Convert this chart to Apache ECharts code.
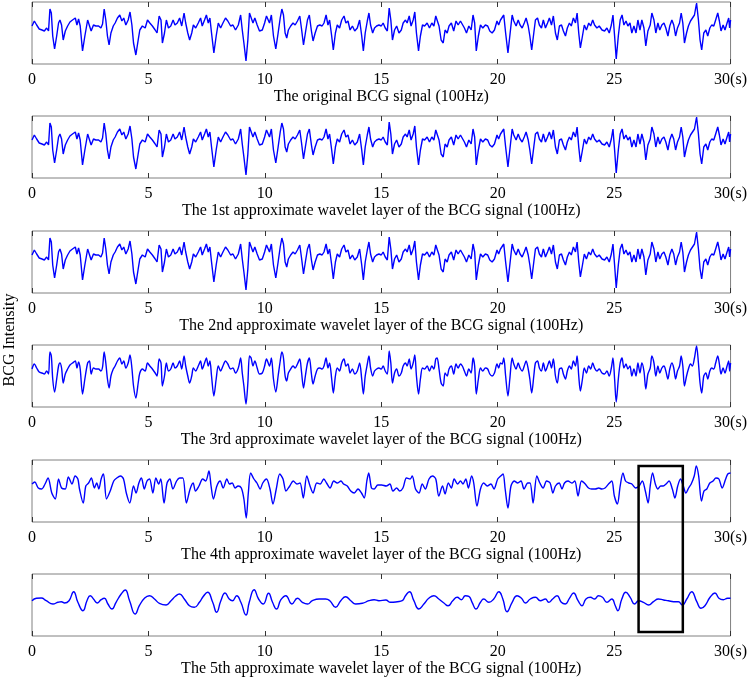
<!DOCTYPE html>
<html>
<head>
<meta charset="utf-8">
<script src="https://cdn.jsdelivr.net/npm/echarts@6/dist/echarts.min.js"></script>
<style>
  html, body { margin: 0; padding: 0; background: #fff; }
  #main { width: 750px; height: 679px; }
</style>
</head>
<body>
<div id="main"></div>
<script>
// BCG signal as [time (s), level]
var rawSignal = [
  [0,38],[0.1,43],[0.2,39],[0.31,35],[0.43,34],[0.53,33],[0.63,36],[0.71,33],[0.77,55],[0.83,51],[0.89,28],[0.97,15],[1.06,28],[1.14,41],[1.2,44],[1.27,39],[1.34,24],[1.43,33],[1.53,38],[1.63,42],[1.74,44],[1.86,46],[1.93,39],[2.0,45],[2.07,38],[2.17,13],[2.27,28],[2.39,44],[2.47,46],[2.54,33],[2.64,39],[2.74,38],[2.86,38],[2.96,36],[3.03,40],[3.1,55],[3.17,44],[3.24,28],[3.31,19],[3.39,31],[3.49,38],[3.57,41],[3.67,46],[3.77,49],[3.86,43],[3.94,46],[4.03,39],[4.13,44],[4.21,52],[4.29,39],[4.36,21],[4.46,9],[4.56,24],[4.63,34],[4.74,38],[4.86,36],[4.96,44],[5.06,41],[5.17,38],[5.29,34],[5.37,31],[5.46,48],[5.54,44],[5.6,21],[5.69,31],[5.77,44],[5.86,36],[5.96,38],[6.06,44],[6.14,39],[6.24,41],[6.34,46],[6.43,38],[6.53,51],[6.6,41],[6.69,31],[6.77,24],[6.86,31],[6.93,39],[7.03,36],[7.14,41],[7.24,46],[7.31,38],[7.41,44],[7.49,49],[7.57,41],[7.64,46],[7.71,31],[7.81,11],[7.91,28],[8.0,41],[8.1,36],[8.2,41],[8.31,46],[8.41,43],[8.53,38],[8.63,39],[8.74,34],[8.86,39],[8.96,49],[9.03,34],[9.1,21],[9.19,3],[9.27,24],[9.34,51],[9.41,49],[9.49,41],[9.57,46],[9.67,39],[9.77,33],[9.89,34],[9.99,41],[10.07,48],
  [10.2,41],[10.28,49],[10.37,28],[10.47,15],[10.57,31],[10.66,46],[10.73,55],[10.8,49],[10.87,31],[10.94,26],[11.01,34],[11.11,38],[11.21,41],[11.3,39],[11.4,43],[11.5,48],[11.57,36],[11.66,19],[11.74,31],[11.83,44],[11.91,49],[12.0,33],[12.07,23],[12.16,31],[12.26,38],[12.36,39],[12.46,38],[12.54,41],[12.63,49],[12.71,39],[12.78,44],[12.87,28],[12.94,14],[13.03,31],[13.11,39],[13.21,36],[13.3,44],[13.4,48],[13.48,41],[13.57,43],[13.66,34],[13.76,38],[13.86,33],[13.97,36],[14.07,44],[14.16,28],[14.23,13],[14.31,31],[14.4,43],[14.47,51],[14.54,39],[14.63,31],[14.71,36],[14.8,38],[14.9,39],[15.0,38],[15.08,41],[15.17,36],[15.26,33],[15.34,56],[15.41,44],[15.48,24],[15.57,34],[15.66,38],[15.76,31],[15.86,34],[15.94,41],[16.04,44],[16.11,41],[16.2,48],[16.28,38],[16.37,44],[16.44,52],[16.51,31],[16.6,13],[16.68,28],[16.77,39],[16.86,38],[16.97,41],[17.07,36],[17.17,41],[17.26,38],[17.34,48],[17.4,49],[17.48,38],[17.57,24],[17.66,21],[17.74,34],[17.83,31],[17.91,38],[18.01,41],[18.11,33],[18.21,43],[18.3,39],[18.4,43],[18.48,41],[18.57,36],[18.66,31],[18.76,38],[18.86,34],[18.94,49],[19.01,41],[19.08,13],[19.17,28],[19.26,39],[19.36,36],[19.47,39],[19.57,38],[19.66,33],[19.76,31],[19.86,34],[19.97,43],[20.04,39],
  [20.12,44],[20.19,43],[20.26,49],[20.34,31],[20.44,11],[20.52,28],[20.62,49],[20.69,43],[20.79,38],[20.88,44],[20.96,39],[21.05,36],[21.14,41],[21.22,46],[21.31,38],[21.38,28],[21.46,14],[21.55,31],[21.62,44],[21.71,46],[21.79,39],[21.88,36],[21.96,44],[22.05,36],[22.14,41],[22.22,46],[22.31,39],[22.39,48],[22.48,31],[22.56,24],[22.65,38],[22.74,39],[22.82,33],[22.91,28],[22.99,36],[23.08,41],[23.16,38],[23.25,46],[23.34,41],[23.41,51],[23.48,31],[23.55,16],[23.64,28],[23.72,39],[23.81,34],[23.91,41],[23.99,38],[24.08,44],[24.16,39],[24.26,36],[24.36,38],[24.48,34],[24.59,33],[24.69,36],[24.79,31],[24.88,39],[24.95,49],[25.02,28],[25.09,5],[25.18,28],[25.26,44],[25.34,49],[25.42,39],[25.51,43],[25.59,38],[25.68,41],[25.76,31],[25.85,38],[25.94,31],[26.02,44],[26.11,34],[26.19,44],[26.28,36],[26.36,18],[26.45,33],[26.55,39],[26.62,51],[26.71,44],[26.79,31],[26.88,41],[26.96,34],[27.05,39],[27.14,41],[27.22,36],[27.31,28],[27.39,38],[27.48,44],[27.56,39],[27.64,28],[27.72,36],[27.81,41],[27.88,51],[27.95,41],[28.02,21],[28.11,31],[28.19,38],[28.28,43],[28.36,41],[28.45,49],[28.54,61],[28.62,44],[28.69,24],[28.76,14],[28.85,31],[28.94,34],[29.02,28],[29.11,36],[29.19,39],[29.28,38],[29.36,44],[29.45,51],[29.52,43],[29.59,33],[29.68,39],[29.76,34],[29.85,41],[29.92,46],[29.96,36],[30,44]
];

// 4th approximate wavelet layer
var layer4Signal = [
  [0,38],[0.12,40],[0.27,34],[0.42,33],[0.56,38],[0.69,44],[0.85,29],[1.0,23],[1.14,43],[1.27,34],[1.43,33],[1.56,45],[1.72,38],[1.85,46],[1.97,43],[2.04,33],[2.2,19],[2.31,36],[2.43,39],[2.55,44],[2.68,34],[2.78,39],[2.87,33],[2.97,43],[3.07,48],[3.2,23],[3.36,31],[3.51,41],[3.64,44],[3.8,46],[3.93,43],[4.05,29],[4.2,19],[4.36,36],[4.47,29],[4.59,39],[4.7,44],[4.82,33],[4.94,41],[5.05,43],[5.19,29],[5.32,44],[5.44,38],[5.53,43],[5.67,19],[5.8,39],[5.92,43],[6.05,33],[6.21,41],[6.34,44],[6.48,44],[6.63,19],[6.79,33],[6.92,39],[7.02,31],[7.17,36],[7.33,43],[7.46,41],[7.6,51],[7.69,36],[7.79,23],[7.94,36],[8.08,41],[8.21,34],[8.37,43],[8.48,38],[8.6,39],[8.72,34],[8.85,36],[8.99,34],[9.1,23],[9.2,4],[9.29,29],[9.39,49],[9.53,43],[9.66,39],[9.8,33],[9.91,39],
  [10.07,43],[10.22,33],[10.35,18],[10.49,33],[10.64,48],[10.78,43],[10.91,31],[11.07,36],[11.22,41],[11.38,38],[11.51,39],[11.65,24],[11.8,46],[11.94,36],[12.07,29],[12.23,39],[12.38,38],[12.53,43],[12.65,39],[12.8,34],[12.96,41],[13.11,39],[13.27,41],[13.38,38],[13.54,36],[13.69,31],[13.84,29],[14.0,33],[14.15,29],[14.27,24],[14.38,41],[14.46,49],[14.58,34],[14.69,33],[14.85,37],[15.02,37],[15.21,36],[15.37,38],[15.5,31],[15.66,34],[15.79,31],[15.93,34],[16.08,44],[16.24,43],[16.33,46],[16.47,33],[16.62,29],[16.76,38],[16.89,33],[17.05,43],[17.2,46],[17.34,43],[17.47,26],[17.63,36],[17.74,28],[17.88,39],[18.01,34],[18.13,43],[18.28,38],[18.4,41],[18.51,38],[18.63,43],[18.74,34],[18.88,46],[18.97,39],[19.11,16],[19.26,33],[19.4,39],[19.55,36],[19.71,38],[19.84,33],
  [20.0,43],[20.13,46],[20.23,48],[20.32,33],[20.44,14],[20.57,36],[20.71,41],[20.86,39],[21.0,41],[21.13,33],[21.29,39],[21.39,39],[21.52,19],[21.68,46],[21.81,39],[21.95,34],[22.1,41],[22.25,39],[22.37,29],[22.48,36],[22.64,39],[22.76,33],[22.87,39],[23.02,41],[23.18,39],[23.31,41],[23.45,26],[23.6,41],[23.76,38],[23.9,34],[24.03,33],[24.19,33],[24.34,34],[24.47,33],[24.61,34],[24.76,38],[24.9,41],[25.01,26],[25.14,18],[25.26,36],[25.38,49],[25.49,41],[25.63,39],[25.76,38],[25.92,34],[26.07,36],[26.21,41],[26.34,31],[26.46,19],[26.55,36],[26.65,49],[26.77,38],[26.88,33],[27.0,36],[27.11,36],[27.23,38],[27.36,41],[27.5,33],[27.61,24],[27.73,36],[27.85,43],[27.97,36],[28.08,29],[28.2,34],[28.31,38],[28.44,46],[28.53,56],[28.63,46],[28.75,21],[28.86,31],[28.98,33],[29.11,39],[29.25,41],[29.37,44],[29.5,43],[29.64,34],[29.79,43],[29.88,48],[30,49]
];

// 5th approximate wavelet layer
var layer5Signal = [
  [0,35.3],[0.19,37.7],[0.4,38],[0.61,35.3],[0.9,32],[1.11,33.7],[1.26,34.3],[1.4,33],[1.59,35.3],[1.79,44.3],[1.97,33.7],[2.19,25.3],[2.36,35.3],[2.5,40.3],[2.64,37],[2.8,33],[2.97,36.3],[3.11,37.7],[3.26,32],[3.43,27],[3.61,33.7],[3.83,42],[4.0,46],[4.19,35.3],[4.43,22],[4.61,30.3],[4.83,37.7],[5.04,40.3],[5.26,37],[5.47,32.7],[5.76,31],[5.97,35.3],[6.16,39.7],[6.33,42],[6.54,37],[6.76,30.3],[6.97,28.7],[7.19,33.7],[7.36,39.7],[7.54,43.7],[7.76,33.7],[7.93,23.7],[8.11,35.3],[8.29,43],[8.47,37],[8.61,35.3],[8.79,40.3],[8.97,33.7],[9.19,21],[9.33,33.7],[9.54,46.3],[9.73,37],[9.93,32],
  [10.16,42.7],[10.33,33.7],[10.5,27],[10.69,36.3],[10.9,40.3],[11.16,32],[11.4,37.7],[11.61,33.7],[11.83,32],[12.04,35.3],[12.33,37],[12.61,37],[12.79,35.3],[13.04,28.7],[13.26,35.3],[13.47,39.3],[13.69,35.3],[13.9,32],[14.19,32.7],[14.47,35.3],[14.69,36.3],[14.9,35.3],[15.19,36],[15.4,33.7],[15.69,34.3],[15.9,35.3],[16.04,40.3],[16.21,44.3],[16.4,35.3],[16.61,27],[16.83,32],[17.04,37.7],[17.26,40.3],[17.47,37],[17.69,33],[17.87,30.3],[18.07,35.3],[18.26,38.7],[18.44,36.3],[18.61,40.3],[18.76,39.7],[18.9,33.7],[19.07,27],[19.26,33.7],[19.4,37],[19.62,33.7],[19.83,37],
  [20.05,44.3],[20.22,37],[20.4,24.3],[20.62,33.7],[20.83,40.3],[21.02,37.7],[21.19,33],[21.4,37],[21.62,38.7],[21.83,35.3],[22.05,37],[22.19,33.7],[22.36,37],[22.55,40.3],[22.73,33.7],[22.9,32],[23.08,37.7],[23.26,43],[23.45,35.3],[23.62,30.3],[23.79,37],[23.98,38.7],[24.16,37],[24.33,40.3],[24.5,38.7],[24.69,33.7],[24.9,37],[25.05,30.3],[25.16,25.3],[25.33,37],[25.5,43.7],[25.69,38.7],[25.88,32],[26.05,35.3],[26.26,33.7],[26.48,31],[26.69,34.3],[26.9,37],[27.12,36],[27.33,35.3],[27.55,34.3],[27.76,34.3],[27.93,31],[28.12,37],[28.33,44.3],[28.55,34.3],[28.73,27.7],[28.9,30.3],[29.12,38.7],[29.33,43],[29.5,37.7],[29.69,36.3],[29.87,37.7],[30,37.7]
];

var panelTitles = [
  "The original BCG signal (100Hz)",
  "The 1st approximate wavelet layer of the BCG signal (100Hz)",
  "The 2nd approximate wavelet layer of the BCG signal (100Hz)",
  "The 3rd approximate wavelet layer of the BCG signal (100Hz)",
  "The 4th approximate wavelet layer of the BCG signal (100Hz)",
  "The 5th approximate wavelet layer of the BCG signal (100Hz)"
];
var timeRange = [0, 30];
var tickStep = 5;
var levelRange = [0, 62];
// highlighted window: time span, top level in 4th layer, bottom level in 5th layer
var boxTime = [26.05, 27.95];
var boxLevel = [56, 4];

var panelData = [rawSignal, rawSignal, rawSignal, rawSignal, layer4Signal, layer5Signal];
var panelSmooth = [false, false, false, 0.3, 0.3, 0.5];
var panelTop = [2, 116, 231, 345, 460, 574];
var serif = "'Liberation Serif', 'Times New Roman', serif";

var grids = [], xAxes = [], yAxes = [], series = [];
for (var i = 0; i < 6; i++) {
  grids.push({
    left: 32, width: 700, top: panelTop[i], height: 62,
    show: true, borderColor: '#808080', borderWidth: 1
  });
  // bottom axis with labels and inner ticks
  xAxes.push({
    gridIndex: i, type: 'value', position: 'bottom',
    min: timeRange[0], max: timeRange[1], interval: tickStep,
    axisLine: { show: false },
    splitLine: { show: false },
    axisTick: { show: true, inside: true, length: 5, lineStyle: { color: '#333' } },
    axisLabel: {
      margin: 8, color: '#000', fontFamily: serif, fontSize: 16,
      formatter: function (v) { return v === 30 ? '30(s)' : String(v); }
    },
    name: panelTitles[i], nameLocation: 'middle', nameGap: 24,
    nameTextStyle: { color: '#000', fontFamily: serif, fontSize: 16 }
  });
  // top axis: only inner ticks
  xAxes.push({
    gridIndex: i, type: 'value', position: 'top',
    min: timeRange[0], max: timeRange[1], interval: tickStep,
    axisLine: { show: false },
    splitLine: { show: false },
    axisLabel: { show: false },
    axisTick: { show: true, inside: true, length: 5, lineStyle: { color: '#333' } }
  });
  yAxes.push({ gridIndex: i, type: 'value', min: levelRange[0], max: levelRange[1], show: false });
  series.push({
    type: 'line', xAxisIndex: 2 * i, yAxisIndex: i,
    data: panelData[i], showSymbol: false, smooth: panelSmooth[i],
    lineStyle: { color: '#0000ff', width: 1.4 }
  });
}

var option = {
  animation: false,
  backgroundColor: '#fff',
  grid: grids,
  xAxis: xAxes,
  yAxis: yAxes,
  series: series,
  graphic: [{
    type: 'text', x: 10, y: 340, rotation: Math.PI / 2,
    style: { text: 'BCG Intensity', font: "16px 'Liberation Serif'", fill: '#000', textAlign: 'center', textVerticalAlign: 'middle' }
  }]
};

var chartDom = document.getElementById('main');
var myChart = echarts.init(chartDom);
myChart.setOption(option);

// black box spanning 4th and 5th layers, placed through the axes
var bx1 = myChart.convertToPixel({ xAxisIndex: 8 }, boxTime[0]);
var bx2 = myChart.convertToPixel({ xAxisIndex: 8 }, boxTime[1]);
var by1 = myChart.convertToPixel({ yAxisIndex: 4 }, boxLevel[0]);
var by2 = myChart.convertToPixel({ yAxisIndex: 5 }, boxLevel[1]);
myChart.setOption({
  graphic: [option.graphic[0], {
    type: 'rect', z: 100,
    shape: { x: bx1, y: by1, width: bx2 - bx1, height: by2 - by1 },
    style: { fill: 'none', stroke: '#000', lineWidth: 2.5 }
  }]
});
</script>
</body>
</html>
